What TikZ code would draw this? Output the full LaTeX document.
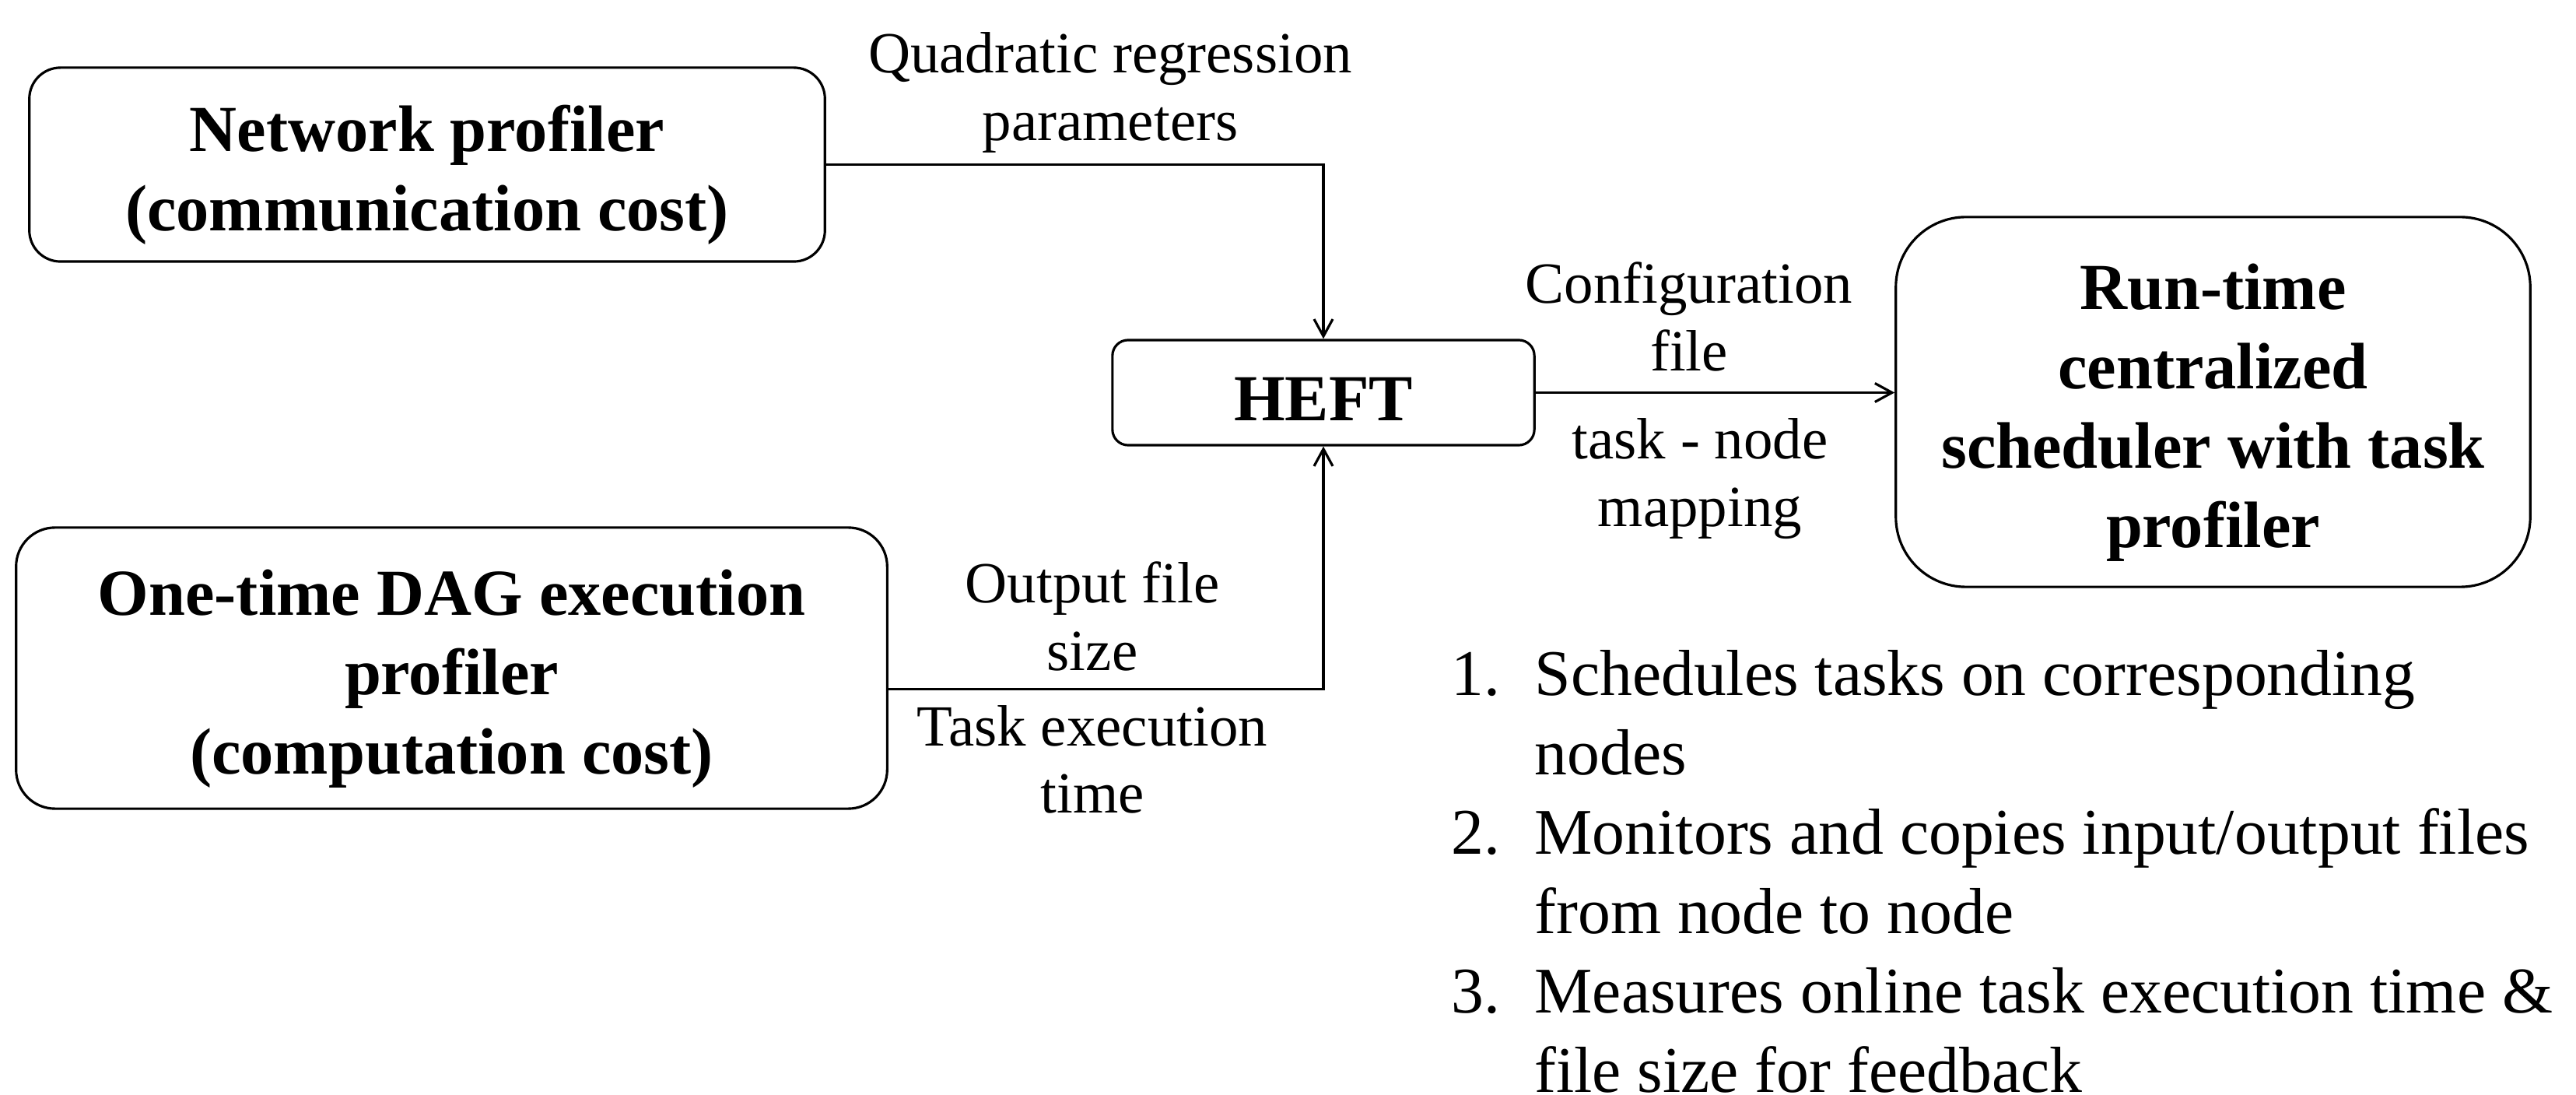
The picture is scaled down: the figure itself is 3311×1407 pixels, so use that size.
\documentclass[tikz,border=0pt]{standalone}
\usepackage{fontspec}
\setmainfont{Liberation Serif}
\usetikzlibrary{arrows.meta}
\begin{document}
\begin{tikzpicture}[x=0.01cm, y=-0.01cm,
    block/.style={draw, line width=0.9pt, inner sep=0pt},
    blocktext/.style={align=center, inner sep=0pt, yshift=-0.135cm,
      font=\fontsize{24}{29}\selectfont\bfseries},
    lbl/.style={align=center, inner sep=0pt, font=\fontsize{21.3}{24.6}\selectfont},
    flow/.style={line width=0.9pt, -{Straight Barb[length=0.22cm, width=0.24cm, line width=0.9pt]}}]
  \useasboundingbox (0,0) rectangle (3311,1407);
  % boxes
  \node[block, rounded corners=0.4cm, minimum width=10.22cm, minimum height=2.49cm,
    label={[blocktext]center:Network profiler\\(communication cost)}] (net) at (549, 211.5) {};
  \node[block, rounded corners=0.5cm, minimum width=11.19cm, minimum height=3.61cm,
    label={[blocktext]center:One-time DAG execution\\profiler\\(computation cost)}] (dag) at (580.5, 858.5) {};
  \node[block, rounded corners=0.2cm, minimum width=5.42cm, minimum height=1.35cm,
    label={[blocktext, yshift=0.05cm]center:HEFT}] (heft) at (1701, 504.5) {};
  \node[block, rounded corners=0.9cm, minimum width=8.15cm, minimum height=4.75cm,
    label={[blocktext]center:Run-time\\centralized\\scheduler with task\\profiler}] (run) at (2844.5, 516.5) {};
  % connectors
  \draw[flow] (net.east) -| (heft.north);
  \draw[flow] ([yshift=-0.27cm]dag.east) -| (heft.south);
  \draw[flow] (heft.east) -- (heft.east -| run.west);
  % labels
  \node[lbl] (quad) at (1427, 119) {Quadratic regression\\parameters};
  \node[lbl] (conf) at (2171, 407) {Configuration\\file};
  \node[lbl] (map) at (2185, 615) {task - node\\mapping};
  \node[lbl] (osize) at (1404, 792) {Output file\\size};
  \node[lbl] (etime) at (1404, 976) {Task execution\\time};
  % list
  \node[anchor=north west, inner sep=0pt, font=\fontsize{23.8}{29}\selectfont] (steps) at (1865, 821)
    {\begin{tabular}{@{}l@{\hspace{0.44cm}}l@{}}
      1. & Schedules tasks on corresponding\\
         & nodes\\
      2. & Monitors and copies input/output files\\
         & from node to node\\
      3. & Measures online task execution time \&\\
         & file size for feedback
    \end{tabular}};
\end{tikzpicture}
\end{document}
